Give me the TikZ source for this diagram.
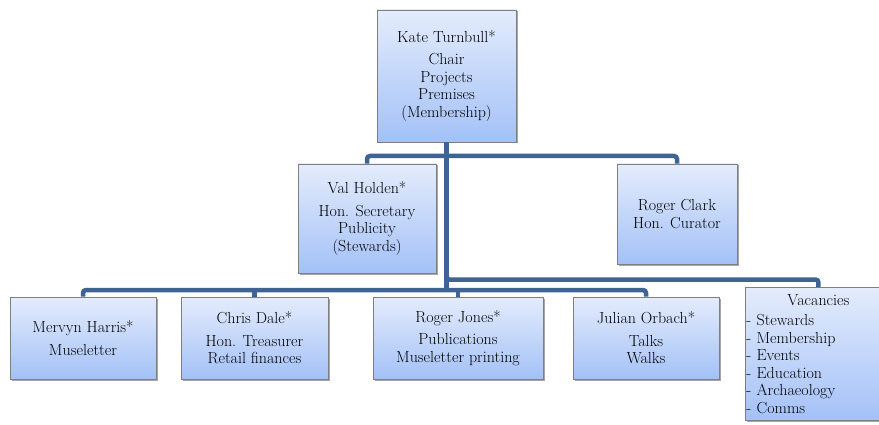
\documentclass[tikz,border=0pt]{standalone}
\usepackage{fontspec}
\usepackage{tikz}
\usetikzlibrary{shadows}

\definecolor{linkblue}{HTML}{3D6494}
\definecolor{boxtop}{HTML}{E4ECFC}
\definecolor{boxbottom}{HTML}{A3C1F7}
\definecolor{boxedge}{HTML}{7F7F7F}

\tikzset{
    unit/.style={rectangle, draw=boxedge, line width=0.9pt, top color=boxtop, bottom color=boxbottom, align=center, inner sep=1pt,
        font=\fontsize{16}{17.5}\selectfont, drop shadow={shadow xshift=1.5pt, shadow yshift=-1.5pt, opacity=.35, fill=black}},
    link/.style={line width=4.5pt, draw=linkblue, rounded corners=3pt}
}

\begin{document}
\begin{tikzpicture}[x=1pt, y=-1pt]
            \clip (0,0) rectangle (879,425);
            \fill[white] (0,0) rectangle (879,425);
            % bus levels
            \coordinate (busA) at (0,156);
            \coordinate (busB) at (0,279.5);
            \coordinate (busC) at (0,290);
            % boxes
            \node [unit, minimum width=139pt, minimum height=132pt] (kate) at (446.5,76) {Kate Turnbull*\\[5pt]Chair\\Projects\\Premises\\(Membership)};
            \node [unit, minimum width=138pt, minimum height=109pt] (val) at (367,218.5) {Val Holden*\\[5pt]Hon. Secretary\\Publicity\\(Stewards)};
            \node [unit, minimum width=120pt, minimum height=100pt] (rclark) at (677,214) {Roger Clark\\Hon. Curator};
            \node [unit, minimum width=146pt, minimum height=82pt] (mervyn) at (83,338) {Mervyn Harris*\\[5pt]Museletter};
            \node [unit, minimum width=147pt, minimum height=82pt] (chris) at (254.5,338) {Chris Dale*\\[5pt]Hon. Treasurer\\Retail finances};
            \node [unit, minimum width=170pt, minimum height=82pt] (rjones) at (458,338) {Roger Jones*\\[5pt]Publications\\Museletter printing};
            \node [unit, minimum width=146pt, minimum height=82pt] (julian) at (646,338) {Julian Orbach*\\[5pt]Talks\\Walks};
            \node [unit, anchor=north west, align=left, text width=144pt, inner xsep=1pt, inner ysep=7pt] (vacancies) at (745,287) {\makebox[144pt]{Vacancies}\\[3pt]- Stewards\\- Membership\\- Events\\- Education\\- Archaeology\\- Comms};
            % connectors
            \draw[link] (val.north) -- (val.north |- busA) -| (rclark.north);
            \draw[link] (mervyn.north) -- (mervyn.north |- busC) -| (julian.north);
            \draw[link] (chris.north) -- (chris.north |- busC);
            \draw[link] (rjones.north) -- (rjones.north |- busC);
            \draw[link] (kate.south) |- (vacancies.north |- busB) -- (vacancies.north);
            \draw[link] (kate.south) -- (kate.south |- busC);
\end{tikzpicture}
\end{document}
